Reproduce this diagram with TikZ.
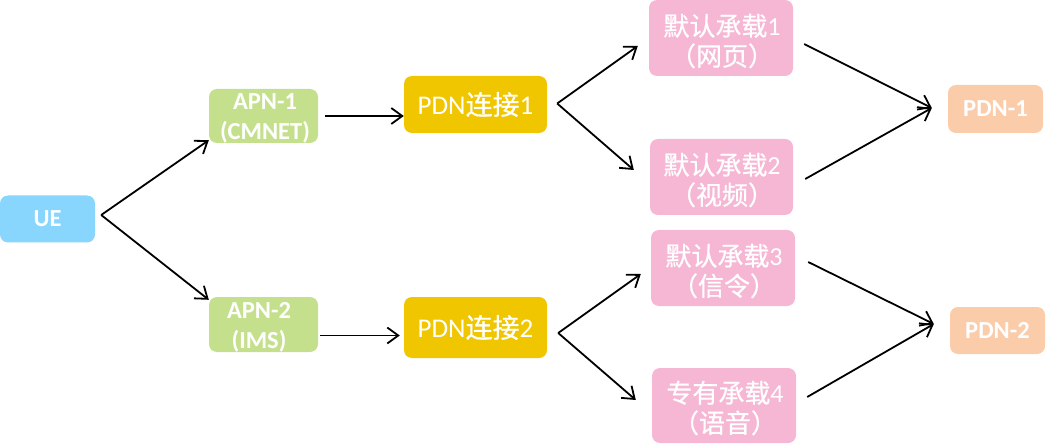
\documentclass[tikz,border=0pt]{standalone}
\usepackage{fontspec}
\setmainfont{Carlito}
\newfontfamily\cjk{Noto Sans CJK SC}[FakeBold=0.6]
\newcommand\zh[1]{{\cjk #1}}
\usetikzlibrary{arrows.meta,calc}
\definecolor{ueblue}{HTML}{88D6FE}
\definecolor{apngreen}{HTML}{C5E08D}
\definecolor{pdngold}{HTML}{F0C600}
\definecolor{bearpink}{HTML}{F6B7D5}
\definecolor{outpeach}{HTML}{FBCCAA}
\begin{document}
\begin{tikzpicture}[x=1pt,y=-1pt,
  box/.style={rounded corners=8pt, text=white, inner sep=0pt, align=center},
  bigbold/.style={font=\bfseries\fontsize{24.5}{30}\selectfont},
  pdnfont/.style={font=\fontsize{27}{30}\selectfont},
  bearfont/.style={font=\fontsize{26}{30}\selectfont},
  arr/.style={line width=1.8pt, -{Straight Barb[length=11pt,width=16pt,line width=1.8pt]}}]
\useasboundingbox (0,0) rectangle (1059,446);
% nodes
\node[box, bigbold, fill=ueblue, minimum width=95pt, minimum height=47pt] (ue) at (47.5,219) {UE};
\node[box, bigbold, fill=apngreen, minimum width=109pt, minimum height=54pt] (apn1) at (263.5,116) {};
\node[bigbold, text=white, align=center, inner sep=0pt] (apn1t) at (265,118) {APN-1\\(CMNET)};
\node[box, bigbold, fill=apngreen, minimum width=109pt, minimum height=55pt] (apn2) at (263.5,324.5) {};
\node[bigbold, text=white, align=center, inner sep=0pt] (apn2t) at (259,327) {APN-2\\(IMS)};
\node[box, pdnfont, fill=pdngold, minimum width=143pt, minimum height=57pt] (pdn1) at (475.5,104.5) {PDN\zh{连接}1};
\node[box, pdnfont, fill=pdngold, minimum width=143pt, minimum height=61pt] (pdn2) at (475.5,327.5) {PDN\zh{连接}2};
\node[box, bearfont, fill=bearpink, minimum width=144pt, minimum height=76pt] (b1) at (721,38) {};
\node[bearfont, text=white, align=center, inner sep=0pt] (b1t) at (722,41) {\zh{默认承载}1\\\zh{（网页）}};
\node[box, bearfont, fill=bearpink, minimum width=143pt, minimum height=76pt] (b2) at (721.5,177) {};
\node[bearfont, text=white, align=center, inner sep=0pt] (b2t) at (722,180) {\zh{默认承载}2\\\zh{（视频）}};
\node[box, bearfont, fill=bearpink, minimum width=144pt, minimum height=76pt] (b3) at (723,268) {};
\node[bearfont, text=white, align=center, inner sep=0pt] (b3t) at (724,271) {\zh{默认承载}3\\\zh{（信令）}};
\node[box, bearfont, fill=bearpink, minimum width=144pt, minimum height=75pt] (b4) at (724,405.5) {};
\node[bearfont, text=white, align=center, inner sep=0pt] (b4t) at (725,408) {\zh{专有承载}4\\\zh{（语音）}};
\node[box, bigbold, fill=outpeach, minimum width=95pt, minimum height=48pt] (out1) at (995.5,109) {PDN-1};
\node[box, bigbold, fill=outpeach, minimum width=95pt, minimum height=47pt] (out2) at (997.5,330.5) {PDN-2};
% fork points
\coordinate (f0) at ($(ue.east)+(6,-4)$);
\coordinate (f1) at ($(pdn1.east)+(10,-1)$);
\coordinate (f2) at ($(pdn2.east)+(11,5.5)$);
% connectors
\draw[arr] (f0) -- ($(apn1.south west)+(0,-3)$);
\draw[arr] (f0) -- ($(apn2.north west)+(0,3)$);
\draw[arr] ($(apn1.east)+(7,0)$) -- (apn1.east -| pdn1.west);
\draw[arr] ($(apn2.east)+(2,11)$) -- ($(pdn2.west)+(-4,8)$);
\draw[arr] (f1) -- ($(b1.west)+(-11,8)$);
\draw[arr] (f1) -- ($(b2.west)+(-16,-7)$);
\draw[arr] (f2) -- ($(b3.west)+(-10,6)$);
\draw[arr] (f2) -- ($(b4.west)+(-16,-5.5)$);
\draw[arr] ($(b1.east)+(11,6)$) -- ($(out1.west)+(-16,-1)$);
\draw[arr] ($(b2.east)+(12,2)$) -- ($(out1.west)+(-16,-1)$);
\draw[arr] ($(b3.east)+(13,-6)$) -- ($(out2.west)+(-16,-6.5)$);
\draw[arr] ($(b4.east)+(11,-8.5)$) -- ($(out2.west)+(-16,-6.5)$);
\end{tikzpicture}
\end{document}
